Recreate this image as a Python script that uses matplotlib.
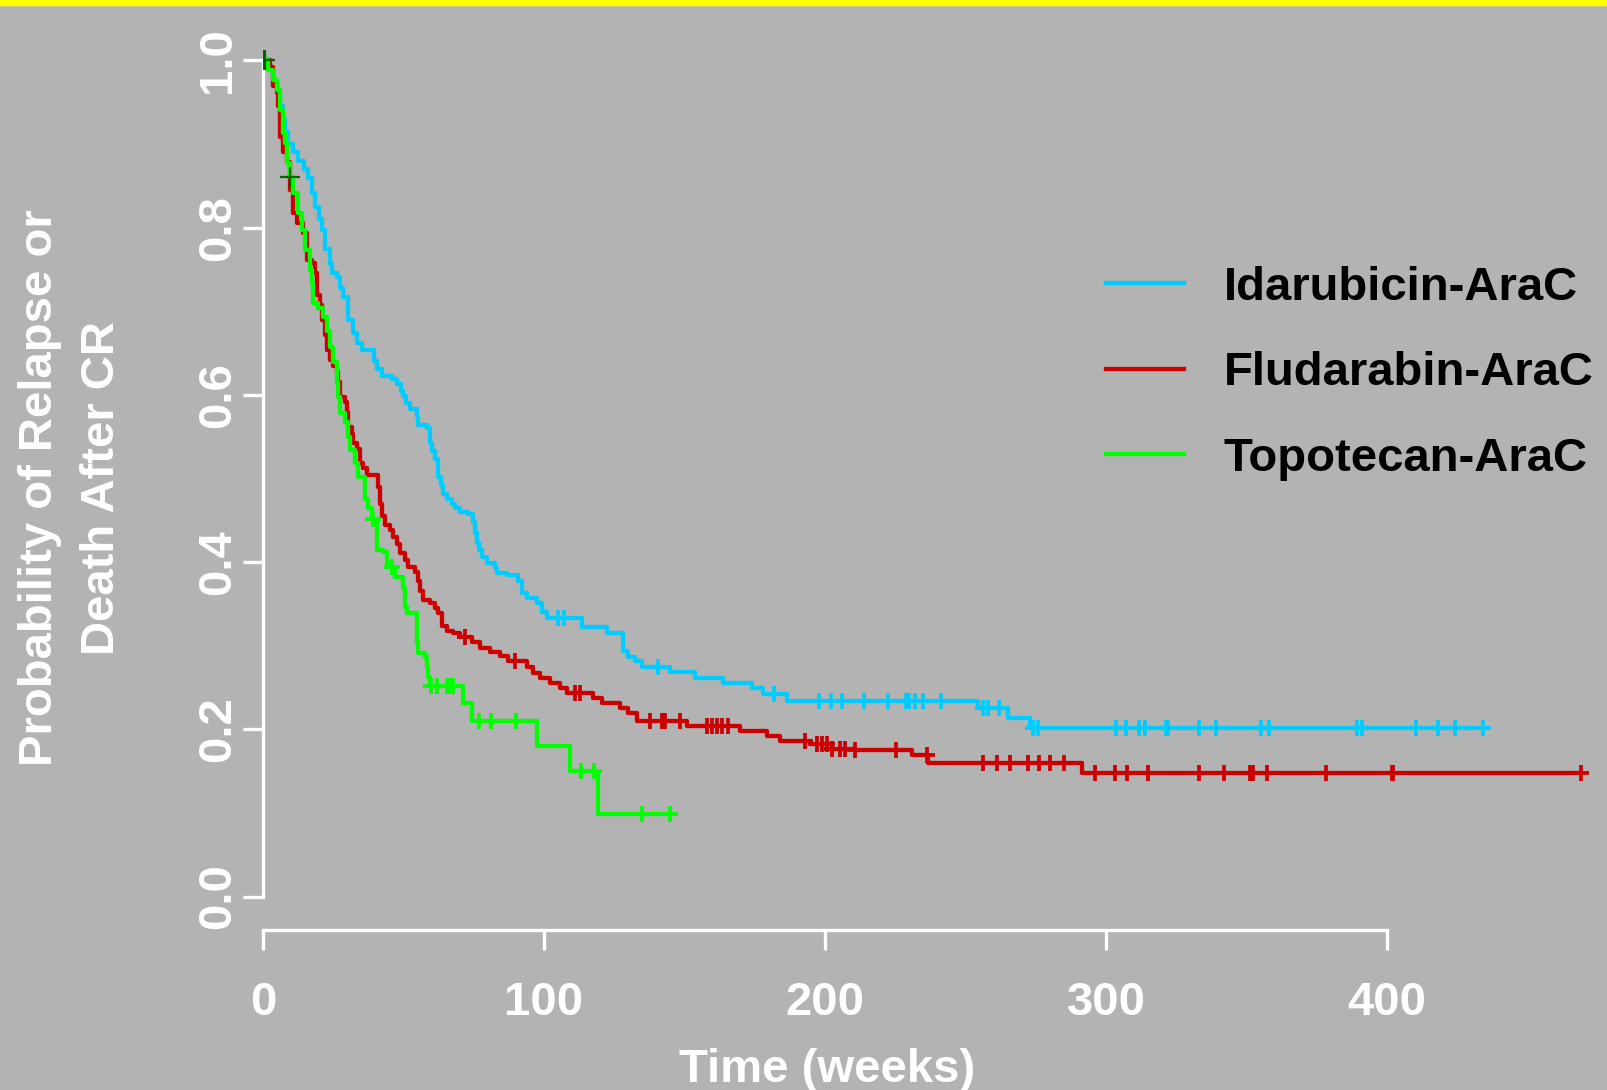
# Kaplan-Meier style curves: relapse-free probability after CR by treatment arm
import numpy as np
import matplotlib
matplotlib.use("Agg")
import matplotlib.pyplot as plt
from matplotlib.patches import Rectangle

plt.rcParams['font.family'] = ['Liberation Sans', 'DejaVu Sans']
plt.rcParams['font.weight'] = 'bold'

# step data: time of each drop (weeks) and value after the drop
ida_t = [2, 3.5, 5, 6, 7, 8, 9, 10.5, 12.5, 14.5, 16, 17.4, 18.5, 20, 21, 22, 23.8, 24.5,
         26.3, 27.5, 28.5, 30.2, 32, 33.5, 35.2, 39.5, 40.6, 42.3, 45.9, 47.7, 49, 49.8,
         51, 52.3, 54.8, 55.2, 58.4, 59.4, 60.3, 61.2, 62.3, 63.2, 64.1, 65.5, 67.3, 68.5,
         70.1, 73, 74.7, 75.5, 76.2, 77, 77.9, 79.7, 82.6, 83.3, 86.8, 90.7, 92.2, 94,
         97.5, 99.3, 101, 113.5, 122.4, 128, 129.9, 132.4, 134.9, 144.8, 153.7, 163.7,
         174, 177.9, 186.5, 254.4, 265.1, 273]
ida_s = [0.99, 0.975, 0.96, 0.945, 0.93, 0.915, 0.9, 0.89, 0.88, 0.87, 0.86, 0.842, 0.825,
         0.81, 0.797, 0.774, 0.757, 0.746, 0.741, 0.728, 0.717, 0.69, 0.674, 0.662, 0.654,
         0.64, 0.631, 0.622, 0.619, 0.613, 0.605, 0.599, 0.59, 0.583, 0.575, 0.564, 0.56,
         0.543, 0.533, 0.523, 0.502, 0.492, 0.482, 0.475, 0.47, 0.465, 0.46, 0.458, 0.448,
         0.435, 0.423, 0.414, 0.406, 0.399, 0.393, 0.387, 0.384, 0.378, 0.363, 0.357,
         0.351, 0.34, 0.333, 0.322, 0.315, 0.294, 0.286, 0.282, 0.274, 0.268, 0.261,
         0.255, 0.249, 0.242, 0.234, 0.226, 0.214, 0.202]
ida_cens = [105, 107, 140.6, 181.9, 197.9, 202.1, 206, 213.9, 222.4, 229, 230, 232, 234.9,
            241.3, 256.2, 258, 261.9, 273.9, 275.8, 303.7, 307.1, 311.8, 313.9, 321.2,
            322.2, 333.1, 339, 355, 358.1, 389.2, 391, 410.3, 418.3, 424.2, 434.3]

flu_t = [2.5, 3.6, 5, 5.3, 6, 7.1, 8.5, 9.6, 10.7, 12.1, 14.2, 15.7, 17.4, 18.5, 19.2, 20.3,
         21, 22, 22.8, 23.8, 25, 26.3, 26.7, 27.4, 29.2, 29.9, 30.2, 31.7, 32, 33.5, 34.5,
         35.6, 37, 41, 41.6, 42.3, 43.4, 45.2, 46.3, 47.7, 48.8, 50.5, 51.6, 54.1, 55.2,
         56, 56.9, 59.4, 61.2, 62.3, 63.7, 65.5, 67.6, 70, 74.4, 77.2, 80.8, 84.3, 87.2,
         94, 96.1, 98.6, 102.1, 105.7, 108.2, 117.4, 120.6, 123.5, 127, 129.9, 133.1,
         150.9, 169.8, 179.4, 184, 194.7, 202.5, 210.7, 231, 236.7, 291.5]
flu_s = [0.992, 0.969, 0.962, 0.945, 0.909, 0.89, 0.878, 0.845, 0.818, 0.806, 0.794, 0.761,
         0.758, 0.746, 0.72, 0.708, 0.69, 0.672, 0.654, 0.642, 0.635, 0.627, 0.615, 0.597,
         0.591, 0.579, 0.562, 0.553, 0.543, 0.535, 0.519, 0.513, 0.504, 0.49, 0.47, 0.455,
         0.444, 0.438, 0.43, 0.422, 0.411, 0.402, 0.394, 0.388, 0.378, 0.366, 0.355, 0.351,
         0.345, 0.339, 0.324, 0.318, 0.315, 0.311, 0.304, 0.297, 0.292, 0.288, 0.282,
         0.274, 0.267, 0.261, 0.256, 0.249, 0.243, 0.237, 0.232, 0.231, 0.226, 0.219,
         0.21, 0.204, 0.198, 0.192, 0.186, 0.183, 0.177, 0.175, 0.169, 0.16, 0.148]
flu_cens = [71.9, 89.7, 111, 112.8, 137.7, 142, 143.1, 148.4, 158, 159.8, 161.6, 163.3,
            165.5, 192.9, 197.2, 198.9, 200.7, 202.5, 205.3, 207.1, 210.7, 225.3, 236.3,
            256.2, 261.2, 265.8, 272.2, 276.2, 280.1, 285.1, 296.1, 303.2, 307.5, 315,
            333.1, 342.1, 351.2, 352.2, 357.2, 378.2, 401.7, 402.3, 469.2]

top_t = [1.8, 3.6, 5, 6, 7.1, 7.8, 8.5, 9.6, 10.7, 12.5, 13.9, 14.9, 16.7, 17.3, 17.8, 19.6,
         21.4, 22.8, 23.8, 24.9, 26.3, 26.7, 27.4, 29.2, 30.2, 31, 32.7, 33.8, 36.3, 37.4,
         38.8, 40.6, 42.7, 44.1, 47, 49.8, 50.5, 51.2, 54.8, 55.2, 57.7, 58.4, 58.7, 59.4,
         71.2, 74.4, 97.5, 109.3, 119.2]
top_s = [0.989, 0.977, 0.965, 0.941, 0.913, 0.901, 0.877, 0.861, 0.842, 0.818, 0.797, 0.773,
         0.749, 0.734, 0.71, 0.704, 0.693, 0.677, 0.657, 0.639, 0.616, 0.597, 0.578, 0.567,
         0.55, 0.534, 0.519, 0.502, 0.475, 0.465, 0.451, 0.415, 0.412, 0.394, 0.382, 0.369,
         0.346, 0.339, 0.303, 0.291, 0.286, 0.274, 0.262, 0.252, 0.232, 0.21, 0.18, 0.15,
         0.099]
top_cens = [39.1, 45.9, 59.8, 61.9, 65.5, 66.2, 67.6, 76.9, 81.1, 90, 113.2, 117.8, 134.9,
            144.8]
odd_cens = [0, 0.7, 9.6]   # dark green marks near the start

groups = ["Idarubicin-AraC", "Fludarabin-AraC", "Topotecan-AraC"]
colors = ["#00CCFF", "#CC0000", "#00FF00"]


def surv_at(times, surv, x):
    idx = np.searchsorted(times, x, side='right') - 1
    return np.where(idx < 0, 1.0, np.asarray(surv)[np.clip(idx, 0, None)])


fig = plt.figure(figsize=(16.07, 10.90), dpi=100, facecolor="#B3B3B3")
fig.patches.append(Rectangle((0, 1 - 5 / 1090), 1, 5 / 1090, transform=fig.transFigure,
                             color="#FFFF00", zorder=0))
ax = fig.add_axes([263 / 1607, 160 / 1090, 1344 / 1607, 903 / 1090])
ax.set_facecolor("none")

data = [(ida_t, ida_s, ida_cens), (flu_t, flu_s, flu_cens), (top_t, top_s, top_cens)]
for (t, s, c), name, col in zip(data, groups, colors):
    end = max(t[-1], max(c))
    xs = [0] + t + [end]
    ys = [1.0] + s + [s[-1]]
    ax.plot(xs, ys, drawstyle='steps-post', color=col, lw=3.1, label=name, zorder=3)
    ax.plot(c, surv_at(t, s, c), ls='none', marker='+', ms=12, mew=2.7, color=col, zorder=4)

ax.plot(odd_cens, surv_at(top_t, top_s, odd_cens), ls='none', marker='+', ms=15, mew=1.6,
        color="#006400", zorder=5)

ax.set_xlim(0, 1344 / 2.81)
ax.set_ylim(-0.04, 1.04)
for side in ['top', 'right']:
    ax.spines[side].set_visible(False)
for side in ['left', 'bottom']:
    ax.spines[side].set_color('white')
    ax.spines[side].set_linewidth(2.4)
ax.spines['left'].set_bounds(0, 1)
ax.spines['bottom'].set_bounds(0, 400)
ax.set_xticks([0, 100, 200, 300, 400])
ax.set_yticks([0, 0.2, 0.4, 0.6, 0.8, 1.0])
ax.set_yticklabels(["0.0", "0.2", "0.4", "0.6", "0.8", "1.0"], rotation=90, va='center')
ax.tick_params(colors='white', length=14.5, width=2.4, labelsize=34)
ax.tick_params(axis='y', pad=2)
ax.tick_params(axis='x', pad=22)
for lab in ax.get_yticklabels():
    lab.set_fontweight('bold')
for lab in ax.get_xticklabels():
    lab.set_fontweight('bold')
    lab.set_family(['Liberation Sans Narrow', 'Liberation Sans'])

fig.text(827 / 1607, 1 - 1070 / 1090, "Time (weeks)", color='white', fontsize=34,
         fontweight='bold', ha='center', va='center')
fig.text(40 / 1607, 1 - 488 / 1090, "Probability of Relapse or", color='white', fontsize=34,
         fontweight='bold', ha='center', va='center', rotation=90)
fig.text(102 / 1607, 1 - 488 / 1090, "Death After CR", color='white', fontsize=34,
         fontweight='bold', ha='center', va='center', rotation=90)

leg = ax.legend(loc='upper left', bbox_to_anchor=(1082 / 1607, 1 - 242 / 1090),
                bbox_transform=fig.transFigure, frameon=False, fontsize=34,
                handlelength=1.65, handletextpad=0.85, labelspacing=0.88, borderpad=0)
for txt in leg.get_texts():
    txt.set_fontweight('bold')
    txt.set_color('black')
for ln in leg.get_lines():
    ln.set_linewidth(3.1)

fig.savefig("out.png", dpi=100, facecolor=fig.get_facecolor())
